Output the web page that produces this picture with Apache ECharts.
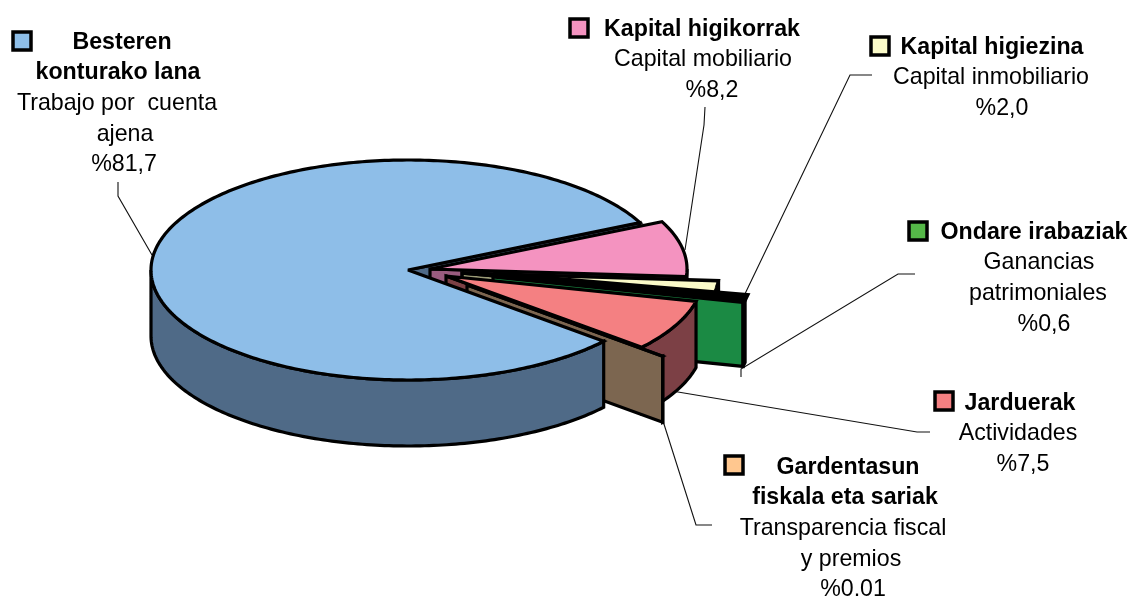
<!DOCTYPE html>
<html>
<head>
<meta charset="utf-8">
<title>Pie</title>
<style>
html, body { margin: 0; padding: 0; background: #fff; }
#chart { width: 1132px; height: 596px; }
</style>
<script src="https://cdn.jsdelivr.net/npm/echarts@6/dist/echarts.min.js"></script>
</head>
<body>
<div id="chart"></div>
<script>
// data
var names = ['Besteren konturako lana', 'Kapital higikorrak', 'Kapital higiezina', 'Ondare irabaziak', 'Jarduerak', 'Gardentasun fiskala eta sariak'];
var values = [81.7, 8.2, 2.0, 0.6, 7.5, 0.01];
var labelLines = [
	['Besteren', 'konturako lana', 'Trabajo por  cuenta', 'ajena', '%81,7'],
	['Kapital higikorrak', 'Capital mobiliario', '%8,2'],
	['Kapital higiezina', 'Capital inmobiliario', '%2,0'],
	['Ondare irabaziak', 'Ganancias', 'patrimoniales', '%0,6'],
	['Jarduerak', 'Actividades', '%7,5'],
	['Gardentasun', 'fiskala eta sariak', 'Transparencia fiscal', 'y premios', '%0,01']
];
var boldLines = [2, 1, 1, 1, 1, 2];

// colours
var topColors = ['#8EBEE8', '#F493C0', '#FAFAC8', '#55B848', '#F48082', '#FFC78F'];
var sideColors = ['#4F6A87', '#9A5C80', '#9C9C78', '#1B8A44', '#7C4045', '#7C6650'];

// layout
var RX = 257, RY = 110, DEPTH = 66;
var START_ANGLE = 25.5; // blue starts here going counter clockwise, the others go clockwise from it
// centre of every slice after it is pulled out
var centers = [[408, 270], [430, 269], [462, 273], [493, 275], [446, 276], [467, 285]];
var strokeWidths = [3.2, 3.2, 3.6, 3.2, 3.2, 3.2];
var topStrokeWidths = [3.2, 3.2, 3.6, 7, 3.2, 3.2]; // the thin green top is almost only outline
var keyBoxes = [[13, 32], [570, 19], [871, 37], [909, 222], [935, 392], [725, 456]];
// one row per slice: text centre x of every line
var lineX = [
	[122, 118, 117, 125, 124],
	[702, 703, 712],
	[992, 991, 1002],
	[1034, 1039, 1038, 1044],
	[1020, 1018, 1023],
	[848, 845, 843, 851, 853]
];
var lineTop = [42.5, 29.5, 47.5, 232.5, 403.5, 467.5];
var LINE_H = 30.6;
var leaders = [
	[[118, 182], [118, 196], [152, 255]],
	[[705, 107], [704, 125], [685, 250]],
	[[872, 75], [850, 75], [743, 298]],
	[[915, 274], [898, 274], [741, 369], [741, 377]],
	[[930, 432], [917, 432], [672, 391]],
	[[712, 525], [696, 525], [663, 421]]
];

// start and end angle of a slice, from the values
function sliceAngles(idx) {
	var total = 0, i;
	for (i = 0; i < values.length; i++) total += values[i];
	if (idx == 0) return [START_ANGLE, START_ANGLE + values[0] / total * 360];
	var a = START_ANGLE;
	for (i = 1; i < idx; i++) a -= values[i] / total * 360;
	return [a, a - values[idx] / total * 360];
}

function pt(c, deg, dy) {
	var r = deg * Math.PI / 180;
	return [c[0] + RX * Math.cos(r), c[1] - RY * Math.sin(r) + (dy || 0)];
}

function arc(c, from, to, dy) {
	var pts = [], n = Math.max(2, Math.ceil(Math.abs(from - to)));
	for (var i = 0; i <= n; i++) pts.push(pt(c, from + (to - from) * i / n, dy));
	return pts;
}

function poly(points, color, width) {
	return {
		type: 'polygon',
		shape: { points: points },
		style: { fill: color, stroke: '#000', lineWidth: width, lineJoin: 'miter', miterLimit: 3 }
	};
}

function face(c, deg, color, width) {
	var p = pt(c, deg);
	return poly([c, p, [p[0], p[1] + DEPTH], [c[0], c[1] + DEPTH]], color, width);
}

// part 0 draws the whole slice, part 1 only the cut face of the blue one that lies behind the rest
function drawSlice(params, api) {
	var idx = api.value(0), part = api.value(1);
	var a = sliceAngles(idx), c = centers[idx], w = strokeWidths[idx], kids = [];
	if (part == 1) {
		kids.push(face(c, a[0], sideColors[idx], w));
		return { type: 'group', children: kids };
	}
	if (idx == 0) {
		kids.push(poly(arc(c, 180, a[1]).concat(arc(c, a[1], 180, DEPTH)), sideColors[idx], w));
	} else {
		kids.push(face(c, a[1], sideColors[idx], w));
		// outer wall, only the part that faces the viewer
		var wallFrom = Math.min(a[0], 0);
		if (wallFrom > a[1]) {
			kids.push(poly(arc(c, wallFrom, a[1]).concat(arc(c, a[1], wallFrom, DEPTH)), sideColors[idx], w));
		}
	}
	kids.push(poly([c].concat(arc(c, a[0], a[1])), topColors[idx], topStrokeWidths[idx]));
	return { type: 'group', children: kids };
}

var graphics = [];
leaders.forEach(function (l) {
	graphics.push({
		type: 'polyline', silent: true, z: 1,
		shape: { points: l },
		style: { fill: null, stroke: '#111', lineWidth: 1.1 }
	});
});
keyBoxes.forEach(function (k, i) {
	graphics.push({
		type: 'rect', silent: true, z: 10,
		shape: { x: k[0], y: k[1], width: 18, height: 18 },
		style: { fill: topColors[i], stroke: '#000', lineWidth: 3.5 }
	});
});
labelLines.forEach(function (lines, i) {
	lines.forEach(function (t, j) {
		graphics.push({
			type: 'text', silent: true, z: 10,
			x: lineX[i][j],
			y: lineTop[i] + j * LINE_H,
			style: {
				text: t,
				fill: '#000',
				align: 'center',
				verticalAlign: 'middle',
				fontFamily: '"Liberation Sans", Arial, sans-serif',
				fontSize: 23.2,
				fontWeight: j < boldLines[i] ? 'bold' : 'normal'
			}
		});
	});
});

var myChart = echarts.init(document.getElementById('chart'), null, { renderer: 'canvas' });
myChart.setOption({
	animation: false,
	backgroundColor: '#fff',
	graphic: { elements: graphics },
	series: [{
		type: 'custom',
		coordinateSystem: 'none',
		z: 5,
		clip: false,
		silent: true,
		renderItem: drawSlice,
		// drawing order, back to front
		data: [[0, 1], [1, 0], [2, 0], [3, 0], [4, 0], [5, 0], [0, 0]]
	}]
});
</script>
</body>
</html>
